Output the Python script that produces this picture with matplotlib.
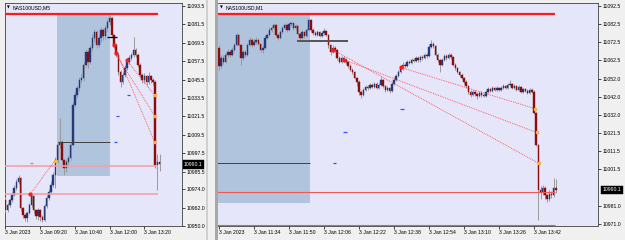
import matplotlib
matplotlib.use("Agg")
import matplotlib.pyplot as plt
import numpy as np
from matplotlib.transforms import blended_transform_factory
from matplotlib.patches import Rectangle

plt.rcParams['font.family'] = ['Liberation Sans', 'DejaVu Sans']

# ---------------- data: left panel (M5) ----------------
L_open0 = 10967.0
L_close = [10960.5, 10963.7, 10967.0, 10970.3, 10974.8, 10978.7, 10981.3, 10961.8, 10957.2, 10955.3,
           10958.5, 10963.7, 10969.6, 10960.5, 10956.6, 10960.5, 10955.9, 10954.0, 10963.1, 10968.3,
           10972.2, 10976.8, 10983.3, 10993.1, 11002.9, 11004.8, 10993.1, 10987.9, 10991.8, 10994.4,
           11002.9, 11029.0, 11035.5, 11040.0, 11045.2, 11046.5, 11055.0, 11063.5, 11057.0, 11066.1,
           11072.6, 11076.5, 11068.1, 11072.6, 11077.8, 11073.9, 11079.1, 11083.1, 11085.7, 11074.6,
           11068.1, 11061.5, 11050.5, 11043.9, 11048.5, 11053.1, 11057.0, 11059.6, 11061.5, 11064.8,
           11061.5, 11055.0, 11048.5, 11045.2, 11047.8, 11043.9, 11047.8, 11045.2, 11043.9, 10989.8,
           10991.8, 10990.1]
L_high = [10969.0, 10965.0, 10968.5, 10972.0, 10977.0, 10980.5, 10983.0, 10982.0, 10962.5, 10958.0,
          10960.0, 10965.0, 10971.5, 10970.5, 10961.0, 10962.0, 10961.0, 10957.0, 10964.5, 10970.0,
          10974.0, 10979.5, 10985.0, 10995.0, 11004.5, 11020.5, 11006.0, 10994.0, 10993.5, 10996.0,
          11005.0, 11031.0, 11037.5, 11042.0, 11047.0, 11049.0, 11057.0, 11065.5, 11064.5, 11068.0,
          11075.0, 11078.5, 11077.5, 11074.5, 11080.0, 11079.0, 11081.0, 11085.0, 11087.6, 11086.0,
          11075.5, 11069.0, 11062.5, 11051.5, 11050.5, 11055.0, 11059.5, 11061.5, 11063.0, 11073.3,
          11066.0, 11062.5, 11056.0, 11049.5, 11050.0, 11048.5, 11050.5, 11048.5, 11046.5, 11045.0,
          10997.0, 10997.0]
L_low = [10959.2, 10959.0, 10962.5, 10965.5, 10969.5, 10973.5, 10977.5, 10960.0, 10955.0, 10953.0,
         10952.7, 10957.5, 10962.5, 10958.5, 10954.5, 10954.0, 10953.5, 10952.5, 10953.0, 10962.0,
         10967.0, 10971.0, 10975.5, 10974.5, 10991.0, 11001.0, 10991.5, 10983.3, 10985.0, 10990.0,
         10993.0, 11002.0, 11027.5, 11033.5, 11038.0, 11043.0, 11044.5, 11053.5, 11053.0, 11055.5,
         11064.0, 11070.0, 11066.0, 11066.5, 11070.0, 11071.5, 11072.0, 11077.0, 11081.0, 11073.0,
         11066.0, 11060.0, 11048.5, 11040.5, 11042.5, 11047.0, 11052.0, 11055.5, 11058.0, 11060.0,
         11060.0, 11053.5, 11047.0, 11043.0, 11043.5, 11042.0, 11042.5, 11043.0, 11042.0, 10988.0,
         10973.5, 10986.0]
L_yticks = [11093.5, 11081.5, 11069.5, 11057.5, 11045.5, 11033.5, 11021.5, 11009.5, 10997.5,
            10985.5, 10974.0, 10962.0, 10950.0]
L_ytick_labels = ['11093.5', '11081.5', '11069.5', '11057.5', '11045.5', '11033.5', '11021.5',
                  '11009.5', '10997.5', '10985.5', '10974.0', '10962.0', '10950.0']
L_xticks = [0, 16, 32, 48, 64]
L_xtick_labels = ['3 Jan 2023', '3 Jan 09:20', '3 Jan 10:40', '3 Jan 12:00', '3 Jan 13:20']

# ---------------- data: right panel (M1) ----------------
R_open0 = 11069.1
R_close = [11059.1, 11063.6, 11061.4, 11065.2, 11066.9, 11065.2, 11068.0, 11070.8, 11076.4, 11070.8,
           11063.6, 11066.9, 11065.2, 11070.8, 11073.6, 11070.8, 11072.5, 11073.6, 11071.4, 11068.0,
           11069.1, 11074.7, 11076.4, 11079.1, 11080.2, 11081.9, 11076.4, 11074.7, 11078.0, 11080.2,
           11081.9, 11079.1, 11082.5, 11083.0, 11080.2, 11081.4, 11076.9, 11074.7, 11078.0, 11075.8,
           11079.1, 11084.7, 11079.1, 11077.5, 11076.4, 11078.0, 11075.8, 11077.5, 11078.6, 11076.4,
           11070.8, 11066.9, 11069.1, 11068.0, 11063.6, 11061.4, 11063.6, 11062.5, 11061.4, 11059.1,
           11056.9, 11055.8, 11052.5, 11050.2, 11044.7, 11043.0, 11045.8, 11047.5, 11046.9, 11048.6,
           11047.5, 11049.1, 11046.9, 11048.6, 11051.4, 11048.0, 11045.8, 11046.9, 11045.2, 11049.1,
           11051.4, 11053.6, 11055.8, 11058.0, 11059.7, 11059.1, 11061.4, 11060.8, 11062.5, 11061.9,
           11063.6, 11062.5, 11064.1, 11063.6, 11065.2, 11064.7, 11069.7, 11071.4, 11070.2, 11065.2,
           11062.5, 11059.7, 11062.5, 11064.7, 11063.6, 11065.2, 11064.1, 11059.7, 11058.0, 11055.8,
           11054.1, 11052.5, 11050.2, 11048.0, 11044.7, 11043.0, 11044.7, 11043.6, 11042.5, 11044.1,
           11043.0, 11042.5, 11044.7, 11046.3, 11045.2, 11046.9, 11045.8, 11046.9, 11045.8, 11046.9,
           11048.0, 11046.9, 11048.6, 11049.1, 11046.9, 11048.0, 11045.8, 11047.5, 11044.7, 11046.3,
           11045.2, 11044.1, 11045.8, 11044.7, 11033.0, 11015.2, 10990.2, 10989.1, 10991.3, 10986.9,
           10984.7, 10988.0, 10986.9, 10990.8, 10990.1]
R_high = [11070.5, 11065.0, 11065.0, 11066.5, 11068.5, 11068.0, 11069.5, 11072.0, 11077.5, 11077.0,
          11071.5, 11068.0, 11068.0, 11072.0, 11075.0, 11074.5, 11074.0, 11075.0, 11074.5, 11072.0,
          11070.5, 11076.0, 11077.5, 11080.5, 11081.5, 11083.0, 11082.5, 11077.5, 11079.0, 11081.5,
          11083.0, 11082.5, 11083.5, 11083.6, 11083.5, 11082.5, 11082.0, 11077.5, 11079.0, 11078.5,
          11080.0, 11085.2, 11085.0, 11080.0, 11078.5, 11079.0, 11078.5, 11078.5, 11080.2, 11079.0,
          11077.0, 11071.5, 11070.5, 11070.0, 11068.5, 11064.5, 11064.5, 11064.5, 11063.5, 11062.0,
          11060.0, 11058.0, 11056.5, 11053.0, 11051.0, 11045.5, 11047.0, 11048.5, 11048.5, 11049.5,
          11049.5, 11050.0, 11050.0, 11049.5, 11053.0, 11052.0, 11048.5, 11048.0, 11047.5, 11050.0,
          11052.5, 11054.5, 11057.0, 11059.0, 11061.0, 11060.5, 11062.5, 11062.5, 11063.5, 11063.5,
          11064.5, 11064.5, 11065.0, 11065.0, 11066.0, 11066.0, 11071.0, 11073.6, 11072.5, 11070.5,
          11066.0, 11063.0, 11063.5, 11065.5, 11065.5, 11066.5, 11066.0, 11064.5, 11060.5, 11058.5,
          11056.5, 11055.0, 11053.0, 11051.0, 11048.5, 11045.5, 11045.5, 11045.5, 11044.5, 11045.0,
          11045.0, 11044.0, 11045.5, 11047.5, 11047.0, 11048.0, 11047.5, 11048.0, 11047.5, 11048.0,
          11049.0, 11048.5, 11049.5, 11051.4, 11049.5, 11049.0, 11048.5, 11048.5, 11048.0, 11047.0,
          11047.0, 11046.0, 11046.5, 11046.8, 11045.5, 11033.5, 11015.5, 10992.0, 10993.0, 10992.0,
          10988.0, 10990.0, 10989.5, 10996.9, 10996.0]
R_low = [11057.0, 11058.0, 11060.0, 11060.5, 11064.0, 11064.0, 11064.5, 11067.0, 11070.0, 11070.0,
         11059.7, 11062.5, 11064.0, 11064.5, 11070.0, 11069.5, 11070.0, 11071.5, 11070.5, 11067.0,
         11066.3, 11068.5, 11074.0, 11075.5, 11078.0, 11079.5, 11075.5, 11073.5, 11074.0, 11077.0,
         11079.5, 11078.0, 11078.5, 11081.5, 11079.0, 11079.5, 11076.0, 11073.6, 11074.0, 11074.5,
         11075.0, 11078.5, 11078.0, 11076.5, 11075.5, 11075.5, 11075.0, 11075.0, 11076.5, 11075.5,
         11069.1, 11065.2, 11066.0, 11067.0, 11062.5, 11060.5, 11060.5, 11061.5, 11060.0, 11058.0,
         11056.0, 11054.5, 11051.5, 11048.0, 11043.0, 11041.4, 11042.5, 11045.0, 11045.5, 11046.0,
         11046.5, 11046.5, 11046.0, 11046.0, 11048.0, 11047.0, 11044.5, 11045.0, 11044.1, 11044.5,
         11048.5, 11050.5, 11053.0, 11055.0, 11057.0, 11058.0, 11058.5, 11060.0, 11060.0, 11061.0,
         11061.0, 11061.5, 11061.5, 11062.5, 11063.0, 11063.5, 11064.0, 11069.0, 11069.0, 11064.5,
         11061.0, 11055.8, 11059.0, 11062.0, 11062.5, 11063.0, 11063.0, 11059.0, 11057.0, 11055.0,
         11053.0, 11051.5, 11049.0, 11047.0, 11043.5, 11041.9, 11042.5, 11042.5, 11040.8, 11042.0,
         11042.0, 11041.5, 11042.0, 11044.0, 11044.5, 11044.5, 11045.0, 11045.0, 11045.0, 11045.0,
         11046.0, 11046.0, 11046.0, 11048.0, 11046.0, 11046.0, 11045.0, 11045.0, 11044.0, 11044.0,
         11044.5, 11043.5, 11043.5, 11044.0, 11032.5, 11014.5, 10973.0, 10985.0, 10987.0, 10984.7,
         10983.0, 10984.0, 10985.5, 10986.0, 10988.5]
R_yticks = [11092.5, 11082.5, 11072.5, 11062.5, 11052.0, 11042.0, 11032.0, 11021.5, 11011.5,
            11001.5, 10981.0, 10971.0]
R_ytick_labels = ['11092.5', '11082.5', '11072.5', '11062.5', '11052.0', '11042.0', '11032.0',
                  '11021.5', '11011.5', '11001.5', '10981.0', '10971.0']
R_xticks = [0, 16, 32, 48, 64, 80, 96, 112, 128, 144]
R_xtick_labels = ['3 Jan 2023', '3 Jan 11:34', '3 Jan 11:50', '3 Jan 12:06', '3 Jan 12:22',
                  '3 Jan 12:38', '3 Jan 12:54', '3 Jan 13:10', '3 Jan 13:26', '3 Jan 13:42']

# ---------------- shared levels and trades ----------------
last_price = 10990.1
top_level = 11088.2
box_bottom = 10982.8
box_line = 11004.8
bid_level = 10988.8
low_level = 10970.7
cross_level = 11073.2
entry_prices = [11068.0, 11062.5, 11058.2]
exit_prices = [11004.8, 11022.0, 11035.3]
L_entry_idx = [49.8, 50.7, 55.8]
L_exit_idx = [68.7, 68.7, 68.7]
R_entry_idx = [52.1, 57.1, 83.1]
R_exit_idx = [146.2, 145.2, 144.3]
L_trade0 = (11.5, 10970.9, 22.6, 10992.4, 10991.0)   # entry idx, entry, exit idx, exit, tp

W, H = 625, 240
fig = plt.figure(figsize=(W / 100, H / 100), dpi=100, facecolor='#F0F0F0')


def rect(x0, x1, y0, y1):
    return [x0 / W, 1 - y1 / H, (x1 - x0) / W, (y1 - y0) / H]


BG = '#E6E6FA'
UP = '#23397A'
DN = '#8A0C0C'
WICK = '#9A9A9A'


def candles(ax, open0, closes, highs, lows, width):
    c = np.array(closes)
    o = np.concatenate([[open0], c[:-1]])
    idx = np.arange(len(c))
    ax.vlines(idx, lows, highs, color=WICK, lw=0.7, zorder=3)
    up = c >= o
    ax.bar(idx[up], (c - o)[up], bottom=o[up], width=width, color=UP,
           edgecolor=UP, lw=0.3, zorder=4)
    ax.bar(idx[~up], (c - o)[~up], bottom=o[~up], width=width, color=DN,
           edgecolor=DN, lw=0.3, zorder=4)


def style(ax, yticks, ylabels, xticks, xlabels, xlim, ylim):
    ax.set_facecolor(BG)
    ax.set_xlim(*xlim)
    ax.set_ylim(*ylim)
    ax.yaxis.tick_right()
    ax.set_yticks(yticks)
    ax.set_yticklabels(ylabels)
    ax.set_xticks(xticks)
    ax.set_xticklabels(xlabels)
    for lab in ax.get_xticklabels():
        lab.set_ha('left')
    ax.tick_params(axis='both', direction='out', length=2, width=0.5, pad=1.2,
                   labelsize=3.7, colors='black')
    for s in ax.spines.values():
        s.set_color('#404040')
        s.set_linewidth(0.6)
    tr = blended_transform_factory(ax.transAxes, ax.transData)
    ax.text(1.012, last_price, '10990.1', transform=tr, ha='left', va='center',
            fontsize=3.7, color='white', zorder=10, clip_on=False,
            bbox=dict(boxstyle='square,pad=0.3', fc='black', ec='black', lw=0.3))


# ---------------- left panel ----------------
axL = fig.add_axes(rect(4.5, 182, 3, 226))
style(axL, L_yticks, L_ytick_labels, L_xticks, L_xtick_labels,
      (-0.46, 81.34), (10950.0, 11095.4))
axL.add_patch(Rectangle((23.9, box_bottom), 48.2 - 23.9, top_level - box_bottom,
                        fc='#B0C4DE', ec='none', zorder=1))
axL.hlines(box_line, 24.2, 48.2, color='#404040', lw=0.7, zorder=5)
candles(axL, L_open0, L_close, L_high, L_low, 0.68)
nL = len(L_close)
axL.hlines(top_level, -0.4, nL - 1.6, color='#FF1A1A', lw=1.6, zorder=6)
axL.hlines([bid_level, low_level], -0.4, nL - 1.6, color='#F4A0A6', lw=1.3, alpha=0.9, zorder=6)
axL.hlines(cross_level, 47.0, 51.4, color='black', lw=0.9, zorder=7)
for ei, ep, xi, xp in zip(L_entry_idx, entry_prices, L_exit_idx, exit_prices):
    axL.plot([ei, xi], [ep, xp], ls=(0, (1, 1.2)), color='#FF3B3B', lw=0.6, zorder=7)
    axL.hlines(xp, ei + 0.1, ei + 1.5, color='#3355FF', lw=0.9, zorder=7)
axL.plot([L_trade0[0], L_trade0[2]], [L_trade0[1], L_trade0[3]], ls=(0, (1, 1.2)),
         color='#FF3B3B', lw=0.6, zorder=7)
axL.hlines(L_trade0[4], L_trade0[0] - 0.4, L_trade0[0] + 1.0, color='#F07070', lw=0.9, zorder=7)
axL.plot(L_entry_idx + [L_trade0[0]], entry_prices + [L_trade0[1]], 'o', ms=2.0,
         color='#FF1A1A', zorder=8)
axL.plot(L_exit_idx + [L_trade0[2]], exit_prices + [L_trade0[3]], 's', ms=1.7,
         color='#F2B24E', zorder=8)

# ---------------- right panel ----------------
axR = fig.add_axes(rect(217.5, 598, 3, 226))
style(axR, R_yticks, R_ytick_labels, R_xticks, R_xtick_labels,
      (-0.69, 173.26), (10969.9, 11094.1))
axR.add_patch(Rectangle((-30, box_bottom), 41.6 + 30, top_level - box_bottom,
                        fc='#B0C4DE', ec='none', zorder=1))
axR.hlines(box_line, -0.7, 41.6, color='#404040', lw=0.7, zorder=5)
candles(axR, R_open0, R_close, R_high, R_low, 0.68)
nR = len(R_close)
axR.hlines(top_level, -0.7, nR - 1.4, color='#FF1A1A', lw=1.6, zorder=6)
axR.hlines([bid_level, low_level], -0.7, nR - 1.4, color='#F05858', lw=0.8, zorder=6)
axR.hlines(cross_level, 35.5, 58.8, color='#555555', lw=1.4, zorder=7)
for ei, ep, xi, xp in zip(R_entry_idx, entry_prices, R_exit_idx, exit_prices):
    axR.plot([ei, xi], [ep, xp], ls=(0, (1, 1.2)), color='#FF3B3B', lw=0.6, zorder=7)
    axR.hlines(xp, ei - 0.2, ei + 1.4, color='#3355FF', lw=0.9, zorder=7)
axR.plot(R_entry_idx, entry_prices, 'o', ms=2.0, color='#FF1A1A', zorder=8)
axR.plot(R_exit_idx, exit_prices, 's', ms=1.7, color='#F2B24E', zorder=8)

# ---------------- frame details and titles ----------------
fig.patches.append(Rectangle((214.5 / W, 0), 3 / W, 1, transform=fig.transFigure,
                             fc='#A8A8A8', ec='none', zorder=0))
fig.patches.append(Rectangle((206 / W, 0), 2 / W, 1, transform=fig.transFigure,
                             fc='#D0D0D0', ec='none', zorder=0))
fig.text(6.5 / W, 1 - 7.5 / H, '▼', fontsize=2.6, va='center', family=['DejaVu Sans'])
fig.text(12.5 / W, 1 - 7.5 / H, 'NAS100USD,M5', fontsize=3.7, va='center')
fig.text(220 / W, 1 - 7.5 / H, '▼', fontsize=2.6, va='center', family=['DejaVu Sans'])
fig.text(226 / W, 1 - 7.5 / H, 'NAS100USD,M1', fontsize=3.7, va='center')

fig.savefig('out.png', dpi=100, facecolor=fig.get_facecolor())
